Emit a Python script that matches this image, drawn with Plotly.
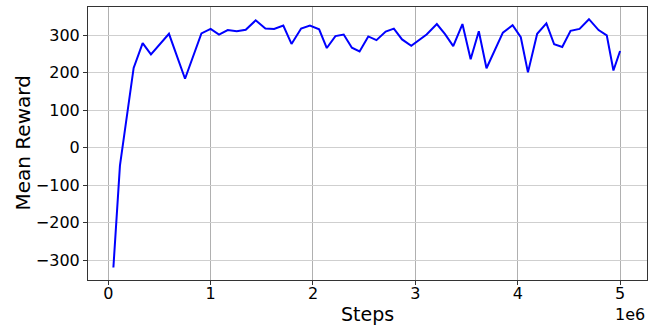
import plotly.graph_objects as go

# Training curve: mean episode reward against environment steps
steps = [
    50000, 114000, 248000, 336000, 417000, 593000, 750000, 910000, 1000000,
    1082000, 1167000, 1255000, 1343000, 1440000, 1535000, 1620000, 1710000,
    1790000, 1884000, 1970000, 2060000, 2135000, 2219000, 2300000, 2380000,
    2455000, 2540000, 2620000, 2710000, 2790000, 2870000, 2960000, 3110000,
    3210000, 3290000, 3370000, 3460000, 3540000, 3620000, 3695000, 3855000,
    3950000, 4030000, 4100000, 4190000, 4280000, 4356000, 4435000, 4516000,
    4604000, 4696000, 4790000, 4870000, 4935000, 5000000,
]
mean_reward = [
    -320, -48, 213, 279, 249, 304, 184, 305, 317,
    302, 314, 311, 315, 340, 318, 317, 326,
    277, 318, 326, 316, 266, 298, 302, 267,
    257, 297, 287, 310, 318, 289, 272, 302,
    330, 303, 271, 330, 236, 311, 212, 307,
    327, 295, 201, 304, 332, 276, 269, 312,
    317, 343, 314, 300, 206, 258,
]

x_tick_vals = [0, 1000000, 2000000, 3000000, 4000000, 5000000]
x_tick_text = ["0", "1", "2", "3", "4", "5"]
y_tick_vals = [-300, -200, -100, 0, 100, 200, 300]

font_family = "DejaVu Sans"
spine = "#333333"

fig = go.Figure()
fig.add_trace(go.Scatter(
    x=steps, y=mean_reward, mode="lines",
    line=dict(color="#0000ff", width=2),
    showlegend=False,
))

fig.update_layout(
    width=657, height=325,
    margin=dict(l=88, r=10, t=7, b=45),
    paper_bgcolor="white", plot_bgcolor="white",
    font=dict(family=font_family, size=16, color="#000000"),
    xaxis=dict(
        range=[-198000, 5263000],
        tickvals=x_tick_vals, ticktext=x_tick_text,
        showgrid=True, gridcolor="#b0b0b0", gridwidth=1,
        zeroline=False,
        showline=True, linecolor=spine, linewidth=1, mirror=True,
        ticks="outside", ticklen=4, tickcolor=spine,
        ticklabelstandoff=-5,
        tickfont=dict(size=16),
    ),
    yaxis=dict(
        range=[-353.4, 375.6],
        tickvals=y_tick_vals,
        showgrid=True, gridcolor="#cfcfcf", gridwidth=1,
        zeroline=False,
        showline=True, linecolor=spine, linewidth=1, mirror=True,
        ticks="outside", ticklen=4, tickcolor=spine,
        tickfont=dict(size=16),
    ),
    annotations=[
        dict(text="Steps", x=0.5, y=0, xref="paper", yref="paper",
             xanchor="center", yanchor="middle", yshift=-34,
             showarrow=False, font=dict(size=19)),
        dict(text="Mean Reward", x=0, y=0.5, xref="paper", yref="paper",
             xanchor="center", yanchor="middle", xshift=-66, textangle=-90,
             showarrow=False, font=dict(size=20)),
        dict(text="1e6", x=1, y=0, xref="paper", yref="paper",
             xanchor="right", yanchor="middle", yshift=-34,
             showarrow=False, font=dict(size=16)),
    ],
)

fig.write_html("out.html")
